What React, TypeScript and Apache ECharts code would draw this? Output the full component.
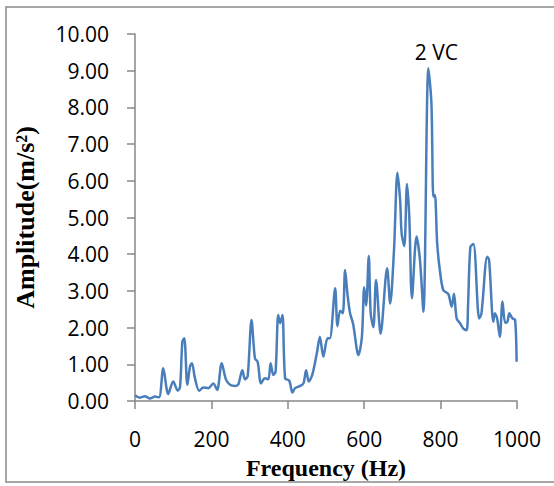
import React, { useEffect, useRef } from "react";
import * as echarts from "echarts";

const frequencies = [
  0, 13, 26, 39, 52, 63, 74, 87, 100, 112, 118, 124, 129, 137, 144, 149, 157, 168, 179, 192,
  205, 215, 227, 238, 249, 262, 270, 281, 288, 295, 305, 314, 321, 330, 340, 349, 355, 362, 368, 375,
  380, 386, 393, 404, 412, 419, 432, 441, 448, 455, 464, 476, 484, 493, 504, 510, 524, 530, 537, 544,
  550, 556, 563, 571, 585, 594, 600, 605, 612, 617, 624, 631, 643, 660, 668, 678, 687, 694, 698, 705,
  712, 718, 725, 737, 746, 755, 768, 776, 781, 785, 791, 798, 807, 820, 829, 835, 842, 851, 859, 868,
  872, 878, 886, 901, 907, 922, 927, 938, 942, 948, 955, 962, 969, 975, 980, 988, 995, 999,
];
const amplitudes = [
  0.16, 0.09, 0.13, 0.07, 0.12, 0.1, 0.89, 0.19, 0.53, 0.28, 0.39, 1.62, 1.71, 0.44, 0.94, 1.03, 0.62, 0.28, 0.37, 0.35,
  0.48, 0.3, 1.03, 0.59, 0.44, 0.41, 0.44, 0.84, 0.59, 0.68, 2.21, 1.16, 1.07, 0.48, 0.62, 0.59, 1.03, 0.71, 0.8, 2.34,
  2.12, 2.34, 0.62, 0.55, 0.23, 0.35, 0.41, 0.48, 0.84, 0.53, 0.71, 1.3, 1.75, 1.21, 1.71, 1.71, 3.07, 2.04, 2.46, 2.39,
  3.57, 2.93, 2.39, 2.1, 1.25, 1.75, 3.1, 2.6, 3.95, 2.39, 2.01, 3.3, 1.83, 3.62, 2.66, 4.11, 6.22, 5.48, 4.57, 4.22,
  5.91, 5.02, 2.8, 4.48, 3.84, 2.43, 9.07, 8.11, 5.57, 5.61, 4.3, 3.57, 3.02, 2.92, 2.57, 2.92, 2.25, 2.12, 1.98, 1.93,
  2.66, 4.2, 4.28, 2.25, 2.39, 3.93, 3.84, 2.16, 2.39, 2.25, 1.75, 2.71, 2.13, 2.16, 2.39, 2.25, 2.21, 1.07,
];
const peakLabel = "2 VC";
const peakPoint = [768, 9.07];
const xTitle = "Frequency (Hz)";
const yTitle = "Amplitude(m/s²)";

export default function App() {
  const ref = useRef<HTMLDivElement>(null);
  useEffect(() => {
    document.body.style.margin = "0";
    if (!ref.current) return;
    const chart = echarts.init(ref.current, undefined, { renderer: "svg" });
    const axisGray = "#878787";
    const labelFont = { fontFamily: "Open Sans", fontSize: 21, color: "#000" };
    chart.setOption({
      animation: false,
      backgroundColor: "#fff",
      grid: { left: 135, right: 37, top: 34, bottom: 85 },
      graphic: [
        {
          type: "rect",
          shape: { x: 6, y: 7, width: 580, height: 475 },
          style: { fill: "none", stroke: "#8a8a8a", lineWidth: 1.5 },
          silent: true,
        },
      ],
      xAxis: {
        type: "value",
        min: 0,
        max: 1000,
        interval: 200,
        splitLine: { show: false },
        axisLine: { show: true, lineStyle: { color: axisGray, width: 1.5 } },
        axisTick: { show: true, length: 8, lineStyle: { color: axisGray, width: 1.5 } },
        axisLabel: { ...labelFont, margin: 27, formatter: (v: number) => String(v) },
        name: xTitle,
        nameLocation: "middle",
        nameGap: 55,
        nameTextStyle: { fontFamily: "Liberation Serif", fontWeight: "bold", fontSize: 24, color: "#000" },
      },
      yAxis: {
        type: "value",
        min: 0,
        max: 10,
        interval: 1,
        splitLine: { show: false },
        axisLine: { show: true, lineStyle: { color: axisGray, width: 1.5 } },
        axisTick: { show: true, length: 8, lineStyle: { color: axisGray, width: 1.5 } },
        axisLabel: { ...labelFont, margin: 26, formatter: (v: number) => v.toFixed(2) },
        name: yTitle,
        nameLocation: "middle",
        nameGap: 97,
        nameTextStyle: { fontFamily: "Liberation Serif", fontWeight: "bold", fontSize: 26, color: "#000" },
      },
      series: [
        {
          type: "line",
          data: frequencies.map((f, i) => [f, amplitudes[i]]),
          smooth: 0.3,
          showSymbol: false,
          lineStyle: { color: "#4a7ebb", width: 2.5 },
          markPoint: {
            symbol: "circle",
            symbolSize: 0,
            data: [{ coord: peakPoint, value: peakLabel }],
            label: {
              show: true,
              formatter: peakLabel,
              position: "top",
              distance: 6,
              fontFamily: "Open Sans",
              fontSize: 21,
              color: "#000",
              offset: [8, 0],
            },
          },
        },
      ],
    });
    return () => chart.dispose();
  }, []);
  return <div ref={ref} style={{ width: 554, height: 486 }} />;
}
